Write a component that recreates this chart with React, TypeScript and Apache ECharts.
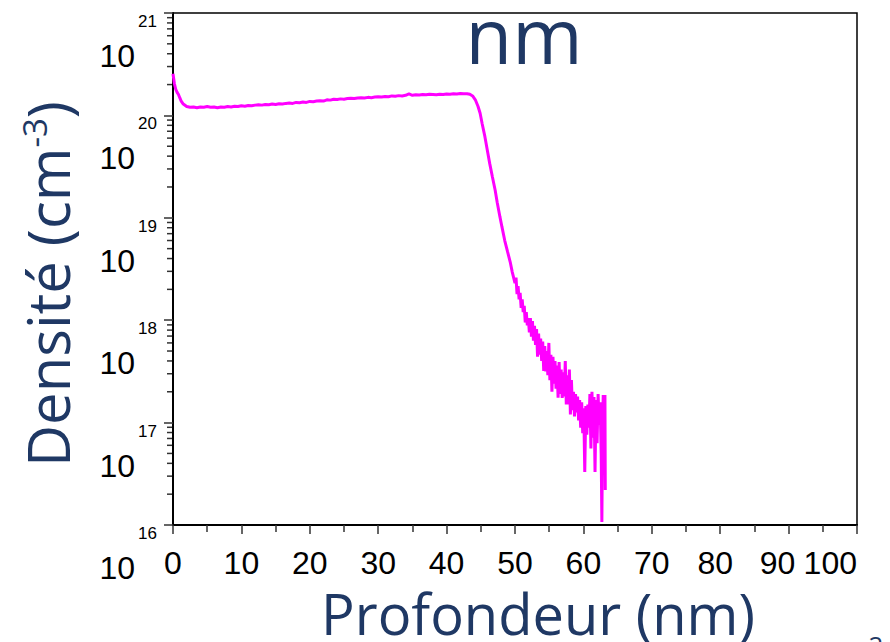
import React, { useEffect, useRef } from "react";
import * as echarts from "echarts";

// depth (nm), density (cm^-3)
const surface: [number, number][] = [
  [0, 2.55e20], [0.2, 2.05e20], [0.4, 1.8e20], [0.6, 1.68e20], [0.8, 1.6e20],
  [1.0, 1.48e20], [1.2, 1.38e20], [1.5, 1.29e20], [2.0, 1.22e20],
];

const plateau: [number, number][] = [
  [2.5, 1.2e20], [3, 1.21e20], [3.5, 1.19e20], [4, 1.21e20], [4.5, 1.2e20],
  [5, 1.22e20], [5.5, 1.2e20], [6, 1.21e20], [6.5, 1.19e20], [7, 1.21e20],
  [7.5, 1.2e20], [8, 1.22e20], [8.5, 1.21e20], [9, 1.23e20], [9.5, 1.22e20],
  [10, 1.24e20], [10.5, 1.23e20], [11, 1.25e20], [11.5, 1.24e20], [12, 1.26e20],
  [12.5, 1.27e20], [13, 1.26e20], [13.5, 1.28e20], [14, 1.27e20], [14.5, 1.29e20],
  [15, 1.28e20], [15.5, 1.3e20], [16, 1.29e20], [16.5, 1.31e20], [17, 1.32e20],
  [17.5, 1.31e20], [18, 1.34e20], [18.5, 1.33e20], [19, 1.35e20], [19.5, 1.34e20],
  [20, 1.37e20], [20.5, 1.36e20], [21, 1.38e20], [21.5, 1.39e20], [22, 1.38e20],
  [22.5, 1.42e20], [23, 1.41e20], [23.5, 1.44e20], [24, 1.43e20], [24.5, 1.45e20],
  [25, 1.44e20], [25.5, 1.46e20], [26, 1.47e20], [26.5, 1.46e20], [27, 1.48e20],
  [27.5, 1.49e20], [28, 1.48e20], [28.5, 1.5e20], [29, 1.49e20], [29.5, 1.51e20],
  [30, 1.52e20], [30.5, 1.51e20], [31, 1.53e20], [31.5, 1.52e20], [32, 1.55e20],
  [32.5, 1.54e20], [33, 1.56e20], [33.5, 1.55e20], [34, 1.57e20], [34.5, 1.62e20],
  [35, 1.57e20], [35.5, 1.59e20], [36, 1.58e20], [36.5, 1.6e20], [37, 1.59e20],
  [37.5, 1.61e20], [38, 1.6e20], [38.5, 1.59e20], [39, 1.61e20], [39.5, 1.6e20],
  [40, 1.62e20], [40.5, 1.61e20], [41, 1.63e20], [41.5, 1.62e20], [42, 1.64e20],
  [42.5, 1.63e20], [43, 1.63e20], [43.4, 1.61e20],
];

const dropOff: [number, number][] = [
  [43.8, 1.55e20], [44.2, 1.42e20], [44.6, 1.22e20], [44.9, 1.05e20], [45.2, 8.3e19],
  [45.6, 6.2e19], [46.0, 4.4e19], [46.3, 3.4e19], [46.7, 2.5e19], [47.1, 1.86e19],
  [47.4, 1.41e19], [47.8, 1.02e19], [48.1, 8.1e18], [48.5, 6.0e18], [48.9, 4.7e18],
  [49.3, 3.7e18], [49.6, 2.95e18], [50.0, 2.3e18],
];

const tail: [number, number][] = [
  [50.15, 2.6e18], [50.3, 1.8e18], [50.45, 2.15e18], [50.6, 1.6e18], [50.75, 1.85e18],
  [50.9, 1.32e18], [51.05, 1.6e18], [51.2, 1.2e18], [51.35, 1.38e18], [51.5, 9.5e17],
  [51.65, 1.2e18], [51.8, 8.9e17], [51.95, 1.05e18], [52.1, 7.6e17], [52.25, 1.05e18],
  [52.4, 6.9e17], [52.55, 9.8e17], [52.7, 6.3e17], [52.85, 8.8e17], [53.0, 5.75e17],
  [53.15, 8.2e17], [53.3, 4.4e17], [53.45, 7.4e17], [53.6, 4.6e17], [53.75, 6.6e17],
  [53.9, 4.0e17], [54.05, 6.2e17], [54.2, 3.2e17], [54.35, 5.6e17], [54.5, 3.16e17],
  [54.65, 5.0e17], [54.8, 2.9e17], [54.95, 6.0e17], [55.1, 2.6e17], [55.25, 4.6e17],
  [55.4, 2.0e17], [55.55, 4.4e17], [55.7, 2.4e17], [55.85, 4.0e17], [56.0, 2.14e17],
  [56.15, 3.6e17], [56.3, 1.75e17], [56.45, 3.9e17], [56.6, 1.9e17], [56.75, 3.3e17],
  [56.9, 1.74e17], [57.05, 3.1e17], [57.2, 1.8e17], [57.35, 4.0e17], [57.5, 1.5e17],
  [57.65, 2.9e17], [57.8, 1.5e17], [57.95, 3.3e17], [58.1, 1.2e17], [58.25, 2.6e17],
  [58.4, 1.32e17], [58.55, 2.0e17], [58.7, 1.15e17], [58.85, 1.9e17], [59.0, 1.26e17],
  [59.15, 1.8e17], [59.3, 1.05e17], [59.45, 1.66e17], [59.6, 8.9e16], [59.75, 1.58e17],
  [59.9, 7.9e16], [60.05, 1.38e17], [60.2, 3.3e16], [60.35, 1.45e17], [60.5, 7.6e16],
  [60.65, 1.5e17], [60.8, 8.9e16], [60.95, 1.9e17], [61.1, 5.6e16], [61.25, 2.0e17],
  [61.4, 7.1e16], [61.55, 1.78e17], [61.7, 3.3e16], [61.85, 1.66e17], [62.0, 6.3e16],
  [62.15, 1.9e17], [62.3, 9.5e16], [62.45, 1.58e17], [62.6, 5.0e16], [62.7, 1.07e16],
  [62.8, 8.9e16], [62.9, 1.86e17], [63.0, 1.86e17], [63.1, 4.0e16], [63.15, 1.86e17],
  [63.2, 2.2e16],
];

const X_MIN = 0;
const X_MAX = 100;
const X_INTERVAL = 10;
const Y_MIN = 1e16;
const Y_MAX = 1e21;
const MINOR_DECADES = [16, 17, 18, 19, 20];
const MINOR_MULTIPLIERS = [2, 3, 4, 5, 6, 7, 8, 9];

export default function App() {
  const ref = useRef<HTMLDivElement>(null);

  useEffect(() => {
    if (!ref.current) return;
    const chart = echarts.init(ref.current, null, { renderer: "svg" });
    const navy = "#1f3864";
    const arial = '"Liberation Sans", Arial, sans-serif';
    const open = '"Open Sans", sans-serif';
    const labelMargin = 22;

    chart.setOption({
      animation: false,
      grid: {
        left: 173,
        right: 33,
        top: 13,
        bottom: 117,
        outerBoundsMode: "none",
        containLabel: false,
        show: true,
        borderColor: "#000",
        borderWidth: 1.5,
        backgroundColor: "transparent",
      },
      xAxis: {
        type: "value",
        min: X_MIN,
        max: X_MAX,
        interval: X_INTERVAL,
        axisLine: { lineStyle: { color: "#000", width: 2 } },
        axisTick: { length: 9, lineStyle: { color: "#333", width: 1.5 } },
        minorTick: { show: true, splitNumber: 2, length: 7, lineStyle: { color: "#333", width: 1.5 } },
        splitLine: { show: false },
        minorSplitLine: { show: false },
        axisLabel: {
          fontSize: 32,
          color: "#000",
          fontFamily: arial,
          margin: labelMargin,
          showMinLabel: true,
          showMaxLabel: false,
          hideOverlap: false,
          formatter: (v: number) => (v === 90 ? "{s9|90}" : v === 80 ? "{s8|80}" : String(v)),
          rich: {
            s9: { fontSize: 32, fontFamily: arial, color: "#000", padding: [0, 22, 0, 0] },
            s8: { fontSize: 32, fontFamily: arial, color: "#000", padding: [0, 10, 0, 0] },
          },
        },
        name: "Profondeur (nm)",
        nameLocation: "middle",
        nameGap: 60,
        nameTextStyle: { fontSize: 56, color: navy, fontFamily: open, padding: [0, 0, 0, 46] },
      },
      yAxis: [
        {
          type: "log",
          min: Y_MIN,
          max: Y_MAX,
          logBase: 10,
          axisLine: { show: true, lineStyle: { color: "#000", width: 2 } },
          axisTick: { show: true, length: 9, lineStyle: { color: "#333", width: 1.5 } },
          splitLine: { show: false },
          axisLabel: {
            formatter: (v: number) => String(Math.round(Math.log10(v))),
            fontSize: 17,
            color: "#000",
            fontFamily: arial,
            verticalAlign: "top",
            margin: 16,
          },
          name: "{m|Densité (cm}{s|-3}{m|)}",
          nameLocation: "middle",
          nameRotate: 90,
          nameGap: 97,
          nameTextStyle: {
            padding: [0, 30, 0, 0],
            rich: {
              m: { fontSize: 58, fontFamily: open, color: navy },
              s: { fontSize: 33, fontFamily: open, color: navy, verticalAlign: "top" },
            },
          },
        },
        {
          type: "log",
          min: Y_MIN,
          max: Y_MAX,
          logBase: 10,
          position: "left",
          offset: 0,
          axisLine: { show: false },
          axisTick: { show: false },
          splitLine: { show: false },
          axisLabel: {
            formatter: () => "10",
            fontSize: 32,
            color: "#000",
            fontFamily: arial,
            margin: 38,
            verticalAlign: "top",
            lineHeight: 86,
          },
        },
      ],
      series: [
        {
          type: "line",
          yAxisIndex: 0,
          data: [...surface, ...plateau, ...dropOff, ...tail],
          showSymbol: false,
          symbol: "none",
          lineStyle: { color: "#ff00ff", width: 3 },
        },
      ],
    });

    const minorTicks: any[] = [];
    for (const e of MINOR_DECADES) {
      for (const m of MINOR_MULTIPLIERS) {
        const p = chart.convertToPixel({ xAxisIndex: 0, yAxisIndex: 0 }, [0, m * Math.pow(10, e)]) as number[];
        minorTicks.push({
          type: "line",
          shape: { x1: p[0] - 6, y1: p[1], x2: p[0], y2: p[1] },
          style: { stroke: "#333", lineWidth: 1.5 },
          silent: true,
        });
      }
    }
    // last x tick label, right-aligned on its tick
    const maxPos = chart.convertToPixel({ xAxisIndex: 0, yAxisIndex: 0 }, [X_MAX, Y_MIN]) as number[];

    chart.setOption({
      graphic: [
        ...minorTicks,
        {
          type: "text",
          x: maxPos[0],
          y: maxPos[1] + labelMargin,
          style: { text: String(X_MAX), fontSize: 32, fontFamily: arial, fill: "#000", align: "right", verticalAlign: "top" },
        },
        {
          type: "text",
          x: 524,
          y: 34,
          style: { text: "nm", fontSize: 76, fontFamily: open, fill: navy, align: "center", verticalAlign: "middle" },
        },
        {
          type: "text",
          x: 876,
          y: 632,
          style: { text: "2", fontSize: 26, fontFamily: open, fill: navy, align: "center", verticalAlign: "top" },
        },
      ],
    });

    return () => chart.dispose();
  }, []);

  return <div ref={ref} style={{ position: "absolute", left: 0, top: 0, width: 890, height: 642 }} />;
}
